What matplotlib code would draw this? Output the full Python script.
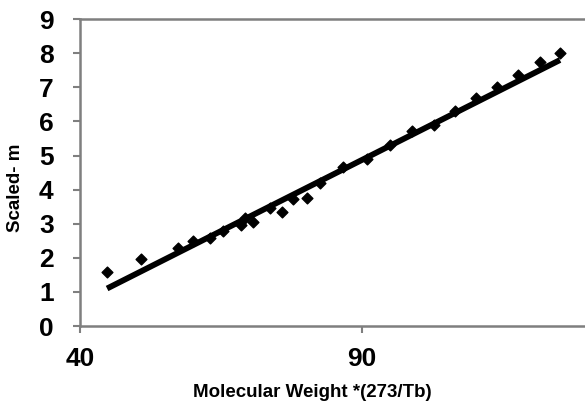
import numpy as np
import matplotlib.pyplot as plt

plt.rcParams['font.family'] = ['Liberation Sans', 'DejaVu Sans']
plt.rcParams['font.weight'] = 'bold'

# data
mw_scaled = [44.8, 50.8, 57.3, 60.0, 63.0, 65.4, 68.5, 69.3, 70.7, 73.6, 75.9,
             77.7, 80.2, 82.6, 86.6, 90.9, 95.0, 98.8, 102.8, 106.5, 110.3,
             114.0, 117.7, 121.6, 125.1]
scaled_m = [1.59, 1.96, 2.28, 2.50, 2.57, 2.80, 2.96, 3.16, 3.06, 3.45, 3.33,
            3.72, 3.76, 4.18, 4.67, 4.89, 5.31, 5.72, 5.89, 6.30, 6.68,
            7.00, 7.36, 7.75, 8.01]

# trend line ends
trend_x = [44.8, 125.1]
trend_y = [1.10, 7.80]

fig = plt.figure(figsize=(5.85, 4.07), dpi=100)
# axes runs past the right edge of the picture, as in the original crop
ax = fig.add_axes([0.1368, 0.199, 0.964, 0.754])

ax.plot(trend_x, trend_y, color='black', linewidth=4.2, solid_capstyle='butt', zorder=2)
ax.scatter(mw_scaled, scaled_m, marker='D', s=30, color='black', zorder=3)

ax.set_xlim(40, 140)
ax.set_ylim(0, 9)
ax.set_xticks([40, 90])
ax.set_yticks(range(0, 10))

for side in ['top', 'bottom', 'left', 'right']:
    ax.spines[side].set_color('#7f7f7f')
    ax.spines[side].set_linewidth(1.8)

ax.tick_params(axis='both', color='#7f7f7f', width=1.5, length=5,
               labelsize=19)
ax.tick_params(axis='y', pad=14)
ax.tick_params(axis='x', pad=10)

ax.set_xlabel('Molecular Weight *(273/Tb)', fontsize=13.5, fontweight='bold')
ax.set_ylabel('Scaled- m', fontsize=13.5, fontweight='bold')
ax.xaxis.set_label_coords(0.412, -0.19)
ax.yaxis.set_label_coords(-0.099, 0.45)

fig.savefig('out.png', dpi=100)
